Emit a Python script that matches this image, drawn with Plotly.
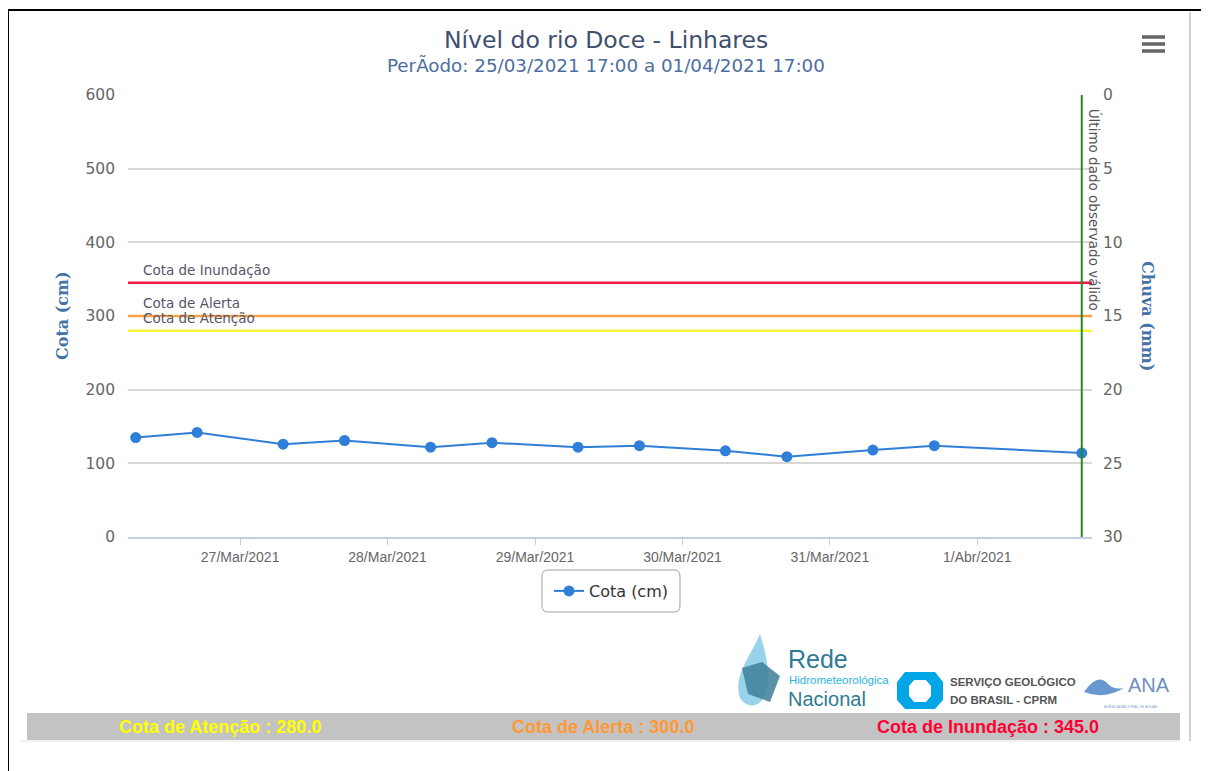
import plotly.graph_objects as go

# ---------------- data ----------------
times = ["2021-03-26 07:00", "2021-03-26 17:00", "2021-03-27 07:00", "2021-03-27 17:00",
         "2021-03-28 07:00", "2021-03-28 17:00", "2021-03-29 07:00", "2021-03-29 17:00",
         "2021-03-30 07:00", "2021-03-30 17:00", "2021-03-31 07:00", "2021-03-31 17:00",
         "2021-04-01 17:00"]
cota = [135, 142, 126, 131, 122, 128, 122, 124, 117, 109, 118, 124, 114]

threshold_names = ["Cota de Atenção", "Cota de Alerta", "Cota de Inundação"]
threshold_values = [280.0, 300.0, 345.0]
threshold_colors = ["#f7f53a", "#f7a04a", "#f0194a"]
threshold_text_colors = ["#ffff00", "#ff9933", "#ff0033"]

x_tick_vals = ["2021-03-27", "2021-03-28", "2021-03-29", "2021-03-30", "2021-03-31", "2021-04-01"]
x_tick_text = ["27/Mar/2021", "28/Mar/2021", "29/Mar/2021", "30/Mar/2021", "31/Mar/2021", "1/Abr/2021"]
y_ticks = [0, 100, 200, 300, 400, 500, 600]
rain_ticks = [0, 5, 10, 15, 20, 25, 30]
last_valid = "2021-04-01 17:00"
x_range = ["2021-03-26 05:45", "2021-04-01 18:40"]

title = "Nível do rio Doce - Linhares"
subtitle = "PerÃodo: 25/03/2021 17:00 a 01/04/2021 17:00"

# ---------------- layout geometry (screen pixels) ----------------
W, H = 1209, 771
OFF = 8  # page body margin
L, R, T, B = 128, 1092, 95, 537
def px(x):
    return (x - L) / (R - L)
def py(y):
    return (B - y) / (B - T)

FONT = "DejaVu Sans"
BLUE = "#2f7ed8"

fig = go.Figure()
fig.add_trace(go.Scatter(
    x=times, y=cota, name="Cota (cm)", mode="lines+markers",
    line=dict(color=BLUE, width=2), marker=dict(color=BLUE, size=11),
))
fig.add_trace(go.Scatter(x=[], y=[], yaxis="y2", showlegend=False, name="Chuva (mm)"))

shapes = []
annotations = []

# threshold plot lines
for name, val, col in zip(threshold_names, threshold_values, threshold_colors):
    shapes.append(dict(type="line", xref="paper", yref="y", x0=0, x1=1, y0=val, y1=val,
                       line=dict(color=col, width=2.5), layer="above"))
    annotations.append(dict(xref="paper", yref="y", x=px(141), y=val, yshift=3,
                            xanchor="left", yanchor="bottom", text=name, showarrow=False,
                            font=dict(family=FONT, size=13.5, color="#555566")))

# last valid data vertical line
shapes.append(dict(type="line", xref="x", yref="paper", x0=last_valid, x1=last_valid,
                   y0=0, y1=1, line=dict(color="#1e8c1e", width=2), layer="above"))
annotations.append(dict(xref="x", yref="paper", x=last_valid, y=1, xshift=3, yshift=-12,
                        xanchor="left", yanchor="top", textangle=90,
                        text="Último dado observado válido", showarrow=False,
                        font=dict(family=FONT, size=13.5, color="#555555")))

# titles
annotations.append(dict(xref="paper", yref="paper", x=px(606), y=py(40), text=title,
                        showarrow=False, xanchor="center", yanchor="middle",
                        font=dict(family=FONT, size=23.5, color="#3e4f6f")))
annotations.append(dict(xref="paper", yref="paper", x=px(606), y=py(65), text=subtitle,
                        showarrow=False, xanchor="center", yanchor="middle",
                        font=dict(family=FONT, size=18.3, color="#4d6e9e")))
# axis titles
annotations.append(dict(xref="paper", yref="paper", x=px(62), y=py(316), text="<b>Cota (cm)</b>",
                        showarrow=False, textangle=-90, xanchor="center", yanchor="middle",
                        font=dict(family="DejaVu Serif", size=16, color="#4572a7")))
annotations.append(dict(xref="paper", yref="paper", x=px(1148), y=py(316), text="<b>Chuva (mm)</b>",
                        showarrow=False, textangle=90, xanchor="center", yanchor="middle",
                        font=dict(family="DejaVu Serif", size=16, color="#4572a7")))

# legend box (rounded)
def rounded_rect(x0, y0, x1, y1, r):
    pts = [
        "M %f,%f" % (px(x0 + r), py(y0)),
        "L %f,%f" % (px(x1 - r), py(y0)),
        "Q %f,%f %f,%f" % (px(x1), py(y0), px(x1), py(y0 + r)),
        "L %f,%f" % (px(x1), py(y1 - r)),
        "Q %f,%f %f,%f" % (px(x1), py(y1), px(x1 - r), py(y1)),
        "L %f,%f" % (px(x0 + r), py(y1)),
        "Q %f,%f %f,%f" % (px(x0), py(y1), px(x0), py(y1 - r)),
        "L %f,%f" % (px(x0), py(y0 + r)),
        "Q %f,%f %f,%f" % (px(x0), py(y0), px(x0 + r), py(y0)),
        "Z",
    ]
    return " ".join(pts)
shapes.append(dict(type="path", xref="paper", yref="paper", path=rounded_rect(542, 570, 680, 612, 6),
                   line=dict(color="#a0a0a0", width=1), fillcolor="rgba(0,0,0,0)"))

# outer frame
shapes.append(dict(type="line", xref="paper", yref="paper", x0=px(OFF), x1=px(OFF), y0=py(10), y1=py(771),
                   line=dict(color="black", width=2)))
shapes.append(dict(type="line", xref="paper", yref="paper", x0=px(OFF), x1=px(1209), y0=py(10), y1=py(10),
                   line=dict(color="black", width=2)))
shapes.append(dict(type="line", xref="paper", yref="paper", x0=px(1207), x1=px(1207), y0=py(10), y1=py(771),
                   line=dict(color="black", width=2)))
shapes.append(dict(type="line", xref="paper", yref="paper", x0=px(1190), x1=px(1190), y0=py(12), y1=py(741),
                   line=dict(color="#d0d0d0", width=2)))

# menu icon
for yy in (37, 44, 51):
    shapes.append(dict(type="line", xref="paper", yref="paper", x0=px(1142), x1=px(1165), y0=py(yy), y1=py(yy),
                       line=dict(color="#666666", width=3.5)))

# bottom band with thresholds
shapes.append(dict(type="rect", xref="paper", yref="paper", x0=px(27), x1=px(1180), y0=py(740), y1=py(713),
                   fillcolor="#c3c3c3", line=dict(width=0), layer="below"))
shapes.append(dict(type="line", xref="paper", yref="paper", x0=px(20), x1=px(1180), y0=py(741), y1=py(741),
                   line=dict(color="#e4e4e4", width=1)))
for name, val, col, cx in zip(threshold_names, threshold_values, threshold_text_colors, (220, 603, 988)):
    annotations.append(dict(xref="paper", yref="paper", x=px(cx), y=py(726.5),
                            text="<b>%s : %.1f</b>" % (name, val), showarrow=False,
                            xanchor="center", yanchor="middle",
                            font=dict(family="Liberation Sans", size=18, color=col)))

# ---- logos (approximation) ----
drop = "M {x0},{y0} C {x1},{y1} {x2},{y2} {x3},{y3} C {x4},{y4} {x5},{y5} {x0},{y0} Z".format(
    x0=px(760), y0=py(634), x1=px(748), y1=py(660), x2=px(735), y2=py(675), x3=px(739), y3=py(695),
    x4=px(745), y4=py(715), x5=px(785), y5=py(712))
shapes.append(dict(type="path", xref="paper", yref="paper", path=drop,
                   fillcolor="#7fc8e6", line=dict(width=0), opacity=0.8))
shapes.append(dict(type="path", xref="paper", yref="paper",
                   path="M {a},{b} L {c},{d} L {e},{f} L {g},{h} L {i},{j} Z".format(
                       a=px(742), b=py(668), c=px(762), d=py(662), e=px(780), f=py(676),
                       g=px(770), h=py(702), i=px(748), j=py(694)),
                   fillcolor="#3f7f99", line=dict(width=0), opacity=0.85))
annotations.append(dict(xref="paper", yref="paper", x=px(786), y=py(659), text="Rede", showarrow=False,
                        xanchor="left", yanchor="middle",
                        font=dict(family="Liberation Sans Narrow, Liberation Sans", size=25, color="#2f7a94")))
annotations.append(dict(xref="paper", yref="paper", x=px(787), y=py(680), text="Hidrometeorológica",
                        showarrow=False, xanchor="left", yanchor="middle",
                        font=dict(family="Liberation Sans Narrow, Liberation Sans", size=11.5, color="#2bb3e6")))
annotations.append(dict(xref="paper", yref="paper", x=px(786), y=py(699), text="Nacional", showarrow=False,
                        xanchor="left", yanchor="middle",
                        font=dict(family="Liberation Sans Narrow, Liberation Sans", size=20, color="#2f7a94")))
oct_pts = [(905, 672), (935, 672), (943, 682), (943, 700), (935, 709), (905, 709), (897, 700), (897, 682)]
oct_path = "M " + " L ".join("%f,%f" % (px(a), py(b)) for a, b in oct_pts) + " Z"
shapes.append(dict(type="path", xref="paper", yref="paper", path=oct_path,
                   fillcolor="#00a6e6", line=dict(width=0)))
inner_pts = [(914, 680), (926, 680), (931, 686), (931, 696), (926, 702), (914, 702), (909, 696), (909, 686)]
inner_path = "M " + " L ".join("%f,%f" % (px(a), py(b)) for a, b in inner_pts) + " Z"
shapes.append(dict(type="path", xref="paper", yref="paper", path=inner_path,
                   fillcolor="white", line=dict(width=0)))
annotations.append(dict(xref="paper", yref="paper", x=px(948), y=py(682), text="<b>SERVIÇO GEOLÓGICO</b>",
                        showarrow=False, xanchor="left", yanchor="middle",
                        font=dict(family="Liberation Sans", size=11.5, color="#555555")))
annotations.append(dict(xref="paper", yref="paper", x=px(948), y=py(700), text="<b>DO BRASIL - CPRM</b>",
                        showarrow=False, xanchor="left", yanchor="middle",
                        font=dict(family="Liberation Sans", size=11.5, color="#555555")))
wave1 = "M {a},{b} Q {c},{d} {e},{f} Q {g},{h} {i},{j} Q {k},{l} {a},{b} Z".format(
    a=px(1084), b=py(692), c=px(1098), d=py(672), e=px(1108), f=py(684),
    g=px(1114), h=py(690), i=px(1124), j=py(688), k=px(1104), l=py(700))
shapes.append(dict(type="path", xref="paper", yref="paper", path=wave1,
                   fillcolor="#4f86c6", line=dict(width=0), opacity=0.85))
annotations.append(dict(xref="paper", yref="paper", x=px(1126), y=py(685), text="ANA", showarrow=False,
                        xanchor="left", yanchor="middle",
                        font=dict(family="Liberation Sans", size=20, color="#6f8fbf")))
annotations.append(dict(xref="paper", yref="paper", x=px(1131), y=py(706), text="AGÊNCIA NACIONAL DE ÁGUAS",
                        showarrow=False, xanchor="center", yanchor="middle",
                        font=dict(family="Liberation Sans", size=3.5, color="#7f9fcf")))

fig.update_layout(
    width=W - OFF, height=H - OFF,
    margin=dict(l=L - OFF, r=W - R, t=T - OFF, b=H - B, pad=0),
    paper_bgcolor="white", plot_bgcolor="white",
    font=dict(family=FONT, color="#666666"),
    showlegend=True,
    legend=dict(orientation="h", x=px(611), xanchor="center", y=py(591), yanchor="middle",
                borderwidth=0, bgcolor="rgba(0,0,0,0)",
                font=dict(family=FONT, size=16, color="#333333"), itemwidth=30),
    xaxis=dict(type="date", range=x_range, tickvals=x_tick_vals, ticktext=x_tick_text,
               showgrid=False, zeroline=False, showline=True, linecolor="#c0d0e0", linewidth=2,
               ticks="outside", ticklen=6, tickcolor="#c0d0e0", tickwidth=1,
               tickfont=dict(family="Liberation Sans", size=14, color="#666666")),
    yaxis=dict(range=[0, 600], tickvals=y_ticks, showgrid=True, gridcolor="#d8d8d8", gridwidth=1.5,
               zeroline=False, showline=False, ticks="", ticklabelstandoff=12,
               tickfont=dict(family=FONT, size=15.5, color="#666666")),
    yaxis2=dict(range=[30, 0], tickvals=rain_ticks, overlaying="y", side="right",
                showgrid=False, zeroline=False, showline=False, ticks="",
                ticklabelstandoff=10,
                tickfont=dict(family=FONT, size=15.5, color="#666666")),
    shapes=shapes, annotations=annotations,
)

fig.write_html("out.html")
